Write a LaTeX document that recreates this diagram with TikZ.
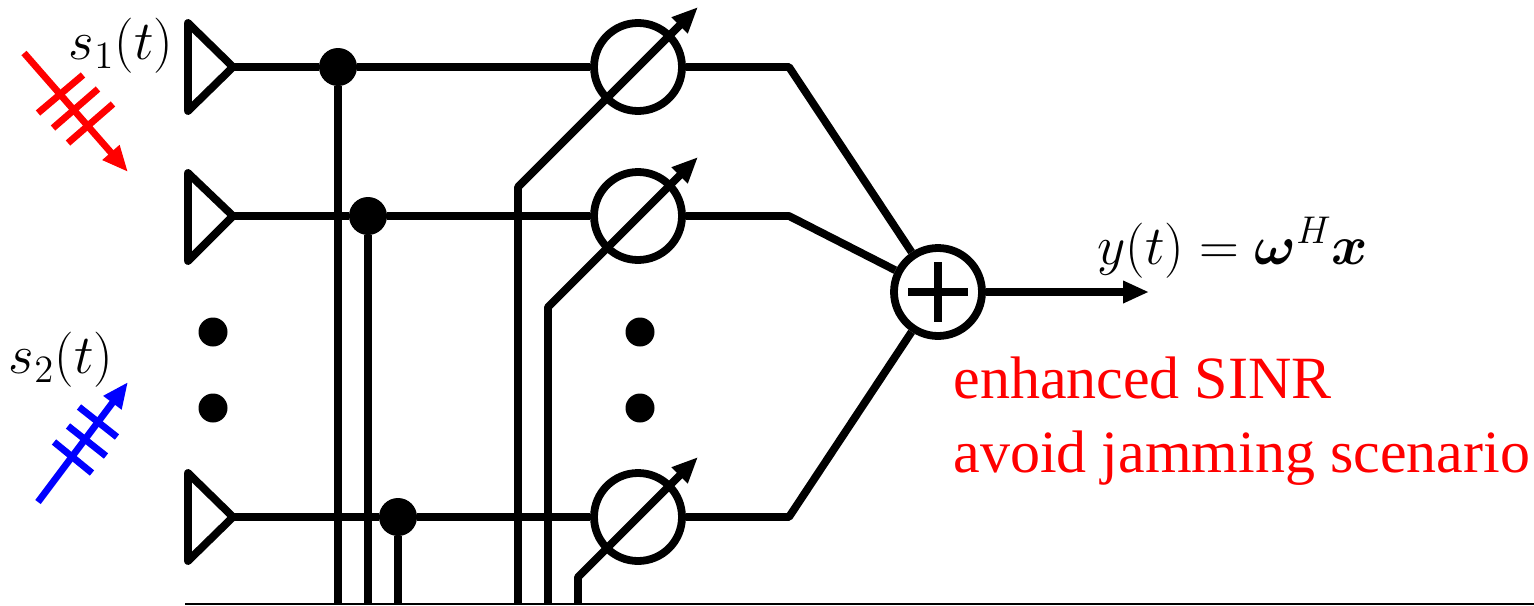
\RequirePackage{fix-cm}
\documentclass[tikz,border=0pt]{standalone}
\usepackage{amsmath,bm}
\usepackage{fontspec}
\setmainfont{Liberation Serif}
\usetikzlibrary{arrows.meta}
\tikzset{
  wire/.style={line width=3.9pt,line join=round},
  ant/.style={line width=3.9pt,line join=round},
  dotnode/.style={circle,fill=black,inner sep=0pt,minimum size=14.5pt},
  junction/.style={circle,fill=black,inner sep=0pt,minimum size=19pt},
  shifter/.style={circle,draw=black,line width=3.9pt,inner sep=0pt,minimum size=44pt},
  tipped/.style={wire,-{Triangle[length=13pt,width=10.5pt]}},
  sig/.style={line width=3.4pt,-{Triangle[length=13pt,width=10.5pt]}},
  tick/.style={line width=3.4pt},
  mlabel/.style={inner sep=0pt,font=\fontsize{24}{28}\selectfont},
  rlabel/.style={inner sep=0pt,anchor=base west,text=red,font=\fontsize{30}{36}\selectfont},
}
\begin{document}
\begin{tikzpicture}[x=0.5pt,y=-0.5pt]
\useasboundingbox (0,0) rectangle (1534,605);
% bottom bus
\coordinate (busL) at (185,604);
\coordinate (busR) at (1534,604);
\draw[line width=1pt] (busL) -- (busR);
% antennas
\coordinate (a1) at (233,67);
\coordinate (a2) at (233,216);
\coordinate (a3) at (233,517);
\draw[ant] (188,23) -- (a1) -- (188,111) -- cycle;
\draw[ant] (188,173) -- (a2) -- (188,261) -- cycle;
\draw[ant] (188,473) -- (a3) -- (188,561) -- cycle;
% junctions, shifters, sum
\node[junction] (j1) at (338,67) {};
\node[junction] (j2) at (368,216) {};
\node[junction] (j3) at (398,517) {};
\node[shifter] (p1) at (638,67) {};
\node[shifter] (p2) at (638,216) {};
\node[shifter] (p3) at (638,517) {};
\node[shifter] (sum) at (938,292) {};
% plus
\coordinate (pl) at (908,292);
\coordinate (pr) at (968,292);
\coordinate (pt) at (938,262);
\coordinate (pb) at (938,322);
\draw[wire] (pl) -- (pr);
\draw[wire] (pt) -- (pb);
% horizontal feeds
\foreach \i in {1,2,3} {
  \draw[wire] (a\i) -- (j\i) -- (p\i);
}
% vertical taps
\coordinate (v1) at (338,604);
\coordinate (v2) at (368,604);
\coordinate (v3) at (398,604);
\draw[wire] (j1) -- (v1);
\draw[wire] (j2) -- (v2);
\draw[wire] (j3) -- (v3);
% weight control arrows
\coordinate (w1) at (518,604);
\coordinate (w1k) at (518,187);
\coordinate (w1t) at (698,7);
\coordinate (w2) at (548,604);
\coordinate (w2k) at (548,307);
\coordinate (w2t) at (698,157);
\coordinate (w3) at (578,604);
\coordinate (w3k) at (578,577);
\coordinate (w3t) at (698,457);
\draw[tipped] (w1) -- (w1k) -- (w1t);
\draw[tipped] (w2) -- (w2k) -- (w2t);
\draw[tipped] (w3) -- (w3k) -- (w3t);
% combiner
\coordinate (c1) at (789,67);
\coordinate (c2) at (789,216);
\coordinate (c3) at (789,517);
\draw[wire] (p1) -- (c1) -- (sum);
\draw[wire] (p2) -- (c2) -- (sum);
\draw[wire] (p3) -- (c3) -- (sum);
\coordinate (out) at (1149,292);
\draw[tipped] (sum) -- (out);
% dots
\node[dotnode] (d1) at (213,332) {};
\node[dotnode] (d2) at (213,408) {};
\node[dotnode] (d3) at (640,332) {};
\node[dotnode] (d4) at (640,408) {};
% incoming signals
\coordinate (r0) at (24,53);
\coordinate (r1) at (128,172);
\draw[sig,red] (r0) -- (r1);
\draw[tick,red] (83,75) -- (38,113);
\draw[tick,red] (98,89) -- (53,128);
\draw[tick,red] (113,104) -- (68,143);
\coordinate (b0) at (38,502);
\coordinate (b1) at (128,382);
\draw[sig,blue] (b0) -- (b1);
\draw[tick,blue] (79,407) -- (117,437);
\draw[tick,blue] (68,426) -- (106,456);
\draw[tick,blue] (54,442) -- (92,473);
% labels
\node[mlabel,scale=1.15] (s1) at (121,46) {$s_1(t)$};
\node[mlabel,scale=1.15] (s2) at (61,360) {$s_2(t)$};
\node[mlabel,scale=1.15,anchor=base west] (y) at (1097,264) {$y(t)=\boldsymbol{\omega}^H\boldsymbol{x}$};
\node[rlabel] (e1) at (953,398) {enhanced SINR};
\node[rlabel] (e2) at (953,472) {avoid jamming scenario};
\end{tikzpicture}
\end{document}
